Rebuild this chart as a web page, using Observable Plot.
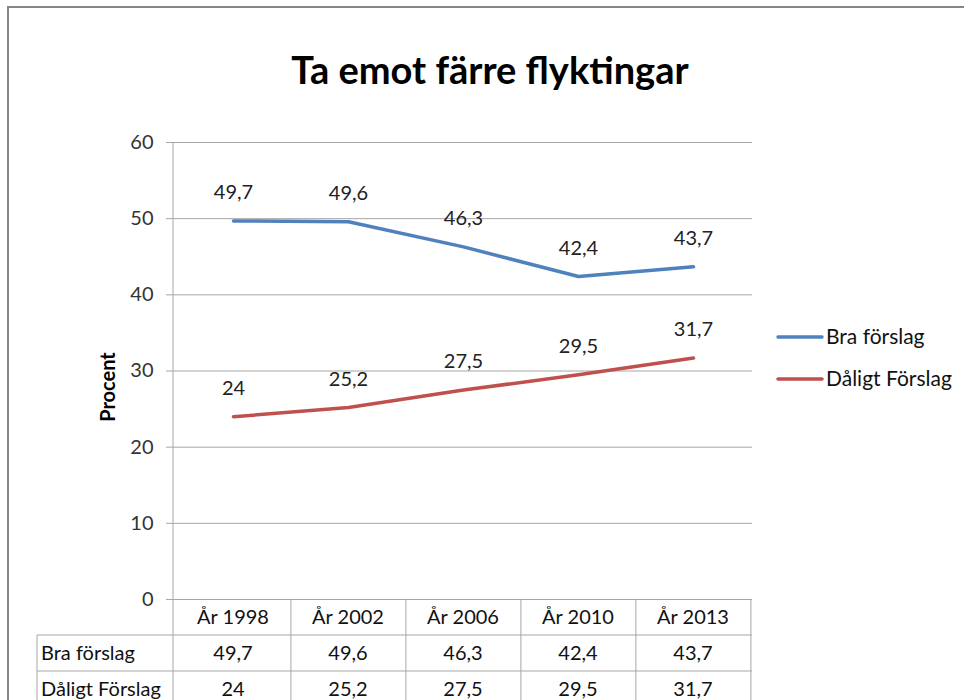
<!DOCTYPE html>
<html>
<head>
<meta charset="utf-8">
<script src="https://cdn.jsdelivr.net/npm/d3@7"></script>
<script src="https://cdn.jsdelivr.net/npm/@observablehq/plot@0.6"></script>
<style>
  html, body { margin: 0; padding: 0; background: #fff; overflow: hidden; }
  #wrap { position: relative; width: 964px; height: 700px; overflow: hidden; font-family: Lato, "Open Sans", sans-serif; }
  #border { position: absolute; left: 7px; top: 6px; width: 1100px; height: 900px; border: 2px solid #868686; box-sizing: border-box; }
  #title { position: absolute; left: 0; width: 980px; top: 46px; text-align: center; font-size: 38px; font-weight: bold; color: #000; }
  #chart { position: absolute; left: 0; top: 0; }
</style>
</head>
<body>
<div id="wrap">
  <div id="border"></div>
  <div id="title">Ta emot färre flyktingar</div>
  <div id="chart"></div>
</div>
<script>
const years = ["År 1998", "År 2002", "År 2006", "År 2010", "År 2013"];
const seriesNames = ["Bra förslag", "Dåligt Förslag"];
const braForslag = [49.7, 49.6, 46.3, 42.4, 43.7];
const daligtForslag = [24, 25.2, 27.5, 29.5, 31.7];
const yTicks = [0, 10, 20, 30, 40, 50, 60];
const colors = ["#4F81BD", "#C0504D"];

const fmt = v => String(v).replace(".", ",");
const data = [];
years.forEach((y, i) => {
  data.push({year: y, series: seriesNames[0], value: braForslag[i]});
  data.push({year: y, series: seriesNames[1], value: daligtForslag[i]});
});

const W = 964, H = 700;
const mL = 173, mR = 212, mT = 142, mB = 101;
const font = "Lato, 'Open Sans', sans-serif";
const lineCol = "#a6a6a6";

const plot = Plot.plot({
  width: W, height: H,
  marginLeft: mL, marginRight: mR, marginTop: mT, marginBottom: mB,
  style: {fontFamily: font, fontSize: "20px", color: "#333", background: "transparent"},
  x: {type: "point", domain: years, padding: 0.5, axis: null},
  y: {domain: [0, 60], ticks: yTicks, label: null},
  color: {domain: seriesNames, range: colors},
  marks: [
    Plot.ruleY(yTicks, {stroke: lineCol, strokeWidth: 1}),
    Plot.axisY(yTicks, {tickSize: 7, tickPadding: 13, stroke: lineCol, fontSize: 20, fill: "#333", tickFormat: d => d}),
    Plot.line(data, {x: "year", y: "value", z: "series", stroke: "series", strokeWidth: 3.5, strokeLinecap: "round"}),
    Plot.text(data, {x: "year", y: "value", text: d => fmt(d.value), dy: -28, fontSize: 20, fill: "#222"})
  ]
});

document.getElementById("chart").appendChild(plot);

// Use the plot's own scales to lay out the data table, axis line and legend
const xs = plot.scale("x");
const svg = d3.select(plot);
const step = (W - mR - mL) / years.length;
const y0 = plot.scale("y").apply(0);
const rowH = 36;
const g = svg.append("g").attr("font-family", font).attr("text-anchor", "start");

// Left value axis line extending through the table
g.append("line").attr("x1", mL).attr("x2", mL).attr("y1", mT).attr("y2", H).attr("stroke", lineCol);
// Table horizontal lines
[1, 2].forEach(r => {
  g.append("line").attr("x1", 37).attr("x2", W - mR).attr("y1", y0 + r * rowH).attr("y2", y0 + r * rowH).attr("stroke", lineCol);
});
g.append("line").attr("x1", 37).attr("x2", 37).attr("y1", y0 + rowH).attr("y2", H).attr("stroke", lineCol);
// Column boundaries
years.forEach(yr => {
  const cx = xs.apply(yr);
  g.append("line").attr("x1", cx + step / 2).attr("x2", cx + step / 2).attr("y1", y0).attr("y2", H).attr("stroke", lineCol);
});
// Header and values
years.forEach((yr, i) => {
  const cx = xs.apply(yr);
  [[yr, 0.5], [fmt(braForslag[i]), 1.5], [fmt(daligtForslag[i]), 2.5]].forEach(([t, r]) => {
    g.append("text").attr("x", cx).attr("y", y0 + rowH * r).attr("dy", "0.35em").attr("text-anchor", "middle")
      .attr("font-size", 20).attr("fill", "#111").text(t);
  });
});
seriesNames.forEach((s, r) => {
  g.append("text").attr("x", 41).attr("y", y0 + rowH * (1.5 + r)).attr("dy", "0.35em").attr("text-anchor", "start")
    .attr("font-size", 20).attr("fill", "#111").text(s);
});
// Y axis title
g.append("text").attr("transform", `translate(108,387) rotate(-90)`).attr("text-anchor", "middle").attr("dy", "0.35em")
  .attr("font-size", 20).attr("font-weight", "bold").attr("fill", "#000").text("Procent");
// Legend
seriesNames.forEach((s, i) => {
  const ly = 337 + i * 42;
  g.append("line").attr("x1", 778).attr("x2", 822).attr("y1", ly).attr("y2", ly).attr("stroke", colors[i]).attr("stroke-width", 3.5).attr("stroke-linecap", "round");
  g.append("text").attr("x", 826).attr("y", ly).attr("dy", "0.35em").attr("text-anchor", "start")
    .attr("font-size", 21).attr("fill", "#111").text(s);
});
</script>
</body>
</html>
